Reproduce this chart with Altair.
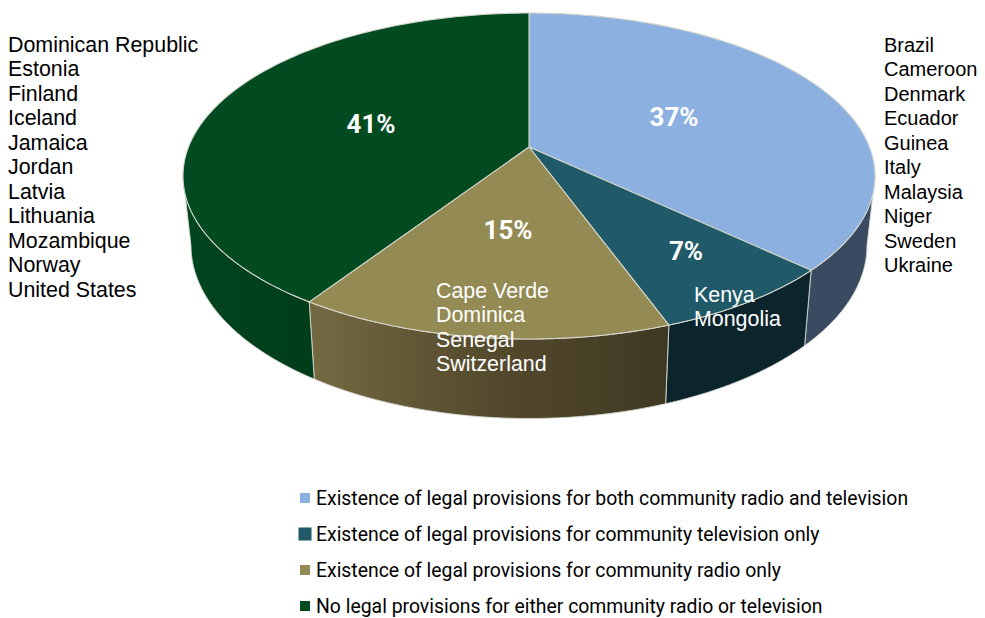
import math
import altair as alt
import pandas as pd

legend_labels = [
    "Existence of legal provisions for both community radio and television",
    "Existence of legal provisions for community television only",
    "Existence of legal provisions for community radio only",
    "No legal provisions for either community radio or television",
]
both = ["Brazil", "Cameroon", "Denmark", "Ecuador", "Guinea", "Italy", "Malaysia", "Niger", "Sweden", "Ukraine"]
tv_only = ["Kenya", "Mongolia"]
radio_only = ["Cape Verde", "Dominica", "Senegal", "Switzerland"]
neither = ["Dominican Republic", "Estonia", "Finland", "Iceland", "Jamaica", "Jordan", "Latvia",
           "Lithuania", "Mozambique", "Norway", "United States"]
groups = [both, tv_only, radio_only, neither]
counts = [len(g) for g in groups]

top_colors = ["#8CB0DF", "#205A69", "#948A53", "#024A20"]
side_fills = [
    "#3A4A60",
    "#0C252C",
    {"gradient": "linear", "x1": 0, "x2": 1, "y1": 0, "y2": 0,
     "stops": [{"offset": 0, "color": "#746A42"}, {"offset": 0.5, "color": "#544A2D"},
               {"offset": 1, "color": "#3F3822"}]},
    {"gradient": "linear", "x1": 0, "x2": 1, "y1": 0, "y2": 0,
     "stops": [{"offset": 0, "color": "#00451F"}, {"offset": 1, "color": "#003D1A"}]},
]
edge = "#D4D6CC"

# Pie geometry (page pixels)
CX, APEX_Y = 529, 147
TOP_CY, TOP_A, TOP_B = 176, 346, 163
BOT_CY, BOT_A, BOT_B = 245.5, 338, 173
K, PA, PB = 0.178, 340.5, 157.8


def project(theta):
    u, v = math.sin(theta), -math.cos(theta)
    w = 1 - K * v
    return CX + PA * u / w, APEX_Y + PB * v / w


def phi_of(theta):
    x, y = project(theta)
    return math.atan2((x - CX) / TOP_A, -(y - TOP_CY) / TOP_B) % (2 * math.pi)


def ell(phi, cy, a, b):
    return CX + a * math.sin(phi), cy - b * math.cos(phi)


PAGE_W, PAGE_H = 969, 610
xs = alt.X("x:Q", axis=None, scale=alt.Scale(domain=[8, 8 + PAGE_W], nice=False, zero=False))
ys = alt.Y("y:Q", axis=None, scale=alt.Scale(domain=[8 + PAGE_H, 8], nice=False, zero=False))


def poly(points, fill, sw=1.1):
    pts = points + [points[0]]
    df = pd.DataFrame({"x": [p[0] for p in pts], "y": [p[1] for p in pts], "i": range(len(pts))})
    return alt.Chart(df).mark_line(fill=fill, stroke=edge, strokeWidth=sw, strokeJoin="round", clip=False).encode(
        x=xs, y=ys, order=alt.Order("i:Q"))


total = sum(counts)
edges = [0]
for c in counts:
    edges.append(edges[-1] + c / total * 2 * math.pi)

layers = []
# side walls
for i in range(4):
    p0 = max(phi_of(edges[i]) if i else 0, math.pi / 2)
    p1 = min(phi_of(edges[i + 1]) if i < 3 else 2 * math.pi, 3 * math.pi / 2)
    if p1 <= p0:
        continue
    n = 60
    ph = [p0 + (p1 - p0) * j / n for j in range(n + 1)]
    pts = [ell(p, TOP_CY, TOP_A, TOP_B) for p in ph] + [ell(p, BOT_CY, BOT_A, BOT_B) for p in reversed(ph)]
    layers.append(poly(pts, side_fills[i], 0.9))
# top wedges
for i in range(4):
    n = 120
    pts = [(CX, APEX_Y)] + [project(edges[i] + (edges[i + 1] - edges[i]) * j / n) for j in range(n + 1)]
    layers.append(poly(pts, top_colors[i]))


def text_layer(rows, **kw):
    return alt.Chart(pd.DataFrame(rows)).mark_text(align="left", baseline="middle", **kw).encode(
        x=xs, y=ys, text="t:N")


LH = 24.5
FONT = "Liberation Sans"
NARROW = "Roboto"
blocks = [(both, 884, 45.7, "#000000", 20), (tv_only, 694, 295.7, "#FFFFFF", 21.4),
          (radio_only, 436, 291.7, "#FFFFFF", 21.4), (neither, 8, 45.7, "#000000", 21.4)]
for names, x0, y0, col, fs in blocks:
    rows = [{"x": x0, "y": y0 + j * LH, "t": n} for j, n in enumerate(names)]
    layers.append(text_layer(rows, font=FONT, fontSize=fs, color=col))

# percentages
pct_pos = [(674, 118), (686, 252), (508, 231), (371, 125)]
pct_rows = [{"x": p[0], "y": p[1], "t": f"{round(100 * c / total)}%"} for p, c in zip(pct_pos, counts)]
layers.append(alt.Chart(pd.DataFrame(pct_rows)).mark_text(
    align="center", baseline="middle", font=NARROW, fontSize=26, fontWeight="bold", color="#FFFFFF"
).encode(x=xs, y=ys, text="t:N"))

# legend
leg_y = [499, 535, 571, 607]
leg_size = [100, 170, 100, 100]
leg_df = pd.DataFrame({"x": [305] * 4, "y": [y - 1 for y in leg_y], "s": leg_size, "c": top_colors})
layers.append(alt.Chart(leg_df).mark_square(opacity=1).encode(
    x=xs, y=ys, size=alt.Size("s:Q", scale=None, legend=None), color=alt.Color("c:N", scale=None, legend=None)))
layers.append(text_layer([{"x": 316, "y": y, "t": t} for y, t in zip(leg_y, legend_labels)],
                         font=NARROW, fontSize=19.4, color="#000000"))

chart = alt.layer(*layers).properties(
    width=PAGE_W, height=PAGE_H, padding=0, autosize=alt.AutoSizeParams(type="none")
).configure_view(stroke=None)
chart.save("out.html", embed_options={"renderer": "svg", "actions": False})
